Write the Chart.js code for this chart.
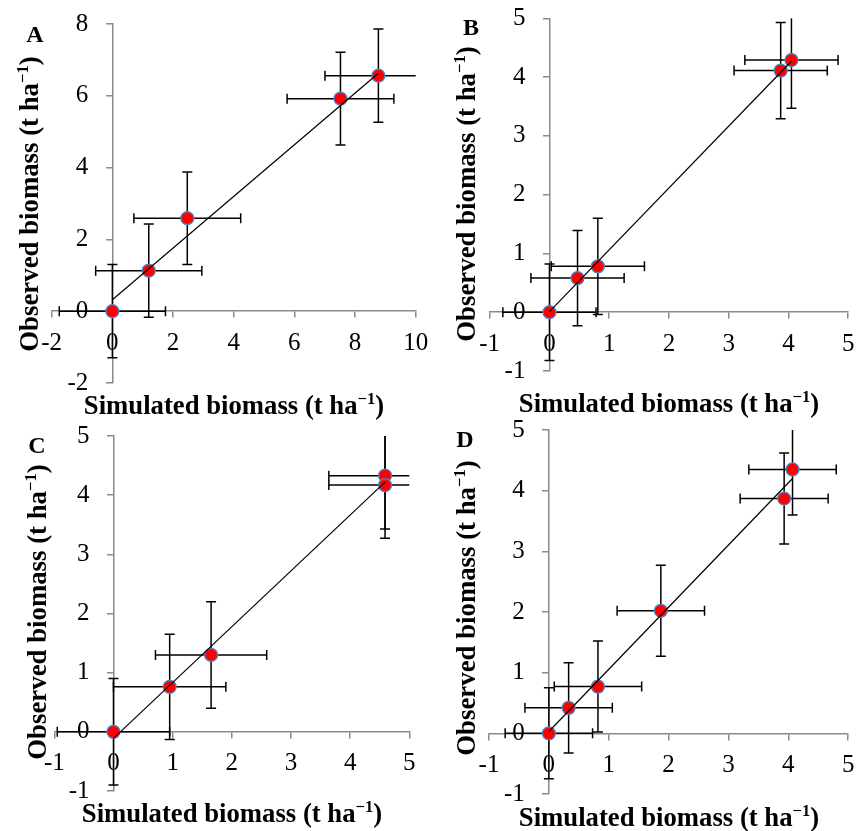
<!DOCTYPE html>
<html>
<head>
<meta charset="utf-8">
<script src="https://cdn.jsdelivr.net/npm/chart.js@4.4.1/dist/chart.umd.min.js"></script>
<style>
  html, body { margin:0; padding:0; background:#fff; }
  body { width:856px; height:831px; position:relative; overflow:hidden; }
  canvas { position:absolute; }
  .t { position:absolute; white-space:nowrap; font-weight:bold; color:#000; font-size:26px; line-height:1; }
  .t sup { font-size:0.62em; vertical-align:0.6em; line-height:0; }
  .xt { transform:translate(-50%,-50%); }
  .yt { transform:translate(-50%,-50%) rotate(-90deg); }
  .lab { position:absolute; font-weight:bold; font-size:24px; line-height:1; transform:translate(-50%,-50%); }
</style>
</head>
<body>
<canvas id="cA" width="430" height="415" style="left:0;top:0;"></canvas>
<canvas id="cB" width="428" height="415" style="left:428px;top:0;"></canvas>
<canvas id="cC" width="430" height="416" style="left:0;top:415px;"></canvas>
<canvas id="cD" width="428" height="416" style="left:428px;top:415px;"></canvas>

<div class="lab" style="left:35px;top:34px;">A</div>
<div class="lab" style="left:471px;top:27px;">B</div>
<div class="lab" style="left:37px;top:445px;">C</div>
<div class="lab" style="left:465px;top:439px;">D</div>

<div class="t xt" style="left:234px;top:405px;">Simulated biomass (t ha<sup>−1</sup>)</div>
<div class="t xt" style="left:669px;top:403px;">Simulated biomass (t ha<sup>−1</sup>)</div>
<div class="t xt" style="left:232px;top:813px;">Simulated biomass (t ha<sup>−1</sup>)</div>
<div class="t xt" style="left:669px;top:817px;">Simulated biomass (t ha<sup>−1</sup>)</div>

<div class="t yt" style="left:29px;top:204px;">Observed biomass (t ha<sup>−1</sup>)</div>
<div class="t yt" style="left:466px;top:194px;">Observed biomass (t ha<sup>−1</sup>)</div>
<div class="t yt" style="left:37px;top:612px;">Observed biomass (t ha<sup>−1</sup>)</div>
<div class="t yt" style="left:466px;top:608px;">Observed biomass (t ha<sup>−1</sup>)</div>

<script>
// ---------- Panel A ----------
const simA = [0, 1.2, 2.47, 7.52, 8.77];
const obsA = [0, 1.13, 2.59, 5.92, 6.56];
const errSimA = [1.75, 1.75, 1.76, 1.76, 1.76];
const errObsA = [1.3, 1.3, 1.29, 1.29, 1.3];
const trendXA = [0, 8.77];
const trendYA = [0.32, 6.63];

// ---------- Panel B ----------
const simB = [0, 0.47, 0.81, 3.87, 4.05];
const obsB = [0, 0.58, 0.78, 4.11, 4.29];
const errSimB = [0.78, 0.78, 0.78, 0.78, 0.78];
const errObsB = [0.82, 0.81, 0.82, 0.82, 0.82];
const trendXB = [0, 4.05];
const trendYB = [0.01, 4.27];

// ---------- Panel C ----------
const simC = [0, 0.95, 1.65, 4.59, 4.59];
const obsC = [0, 0.76, 1.30, 4.33, 4.17];
const errSimC = [0.95, 0.95, 0.94, 0.95, 0.95];
const errObsC = [0.9, 0.89, 0.9, 0.9, 0.9];
const trendXC = [0, 4.59];
const trendYC = [-0.11, 4.22];

// ---------- Panel D ----------
const simD = [0, 0.33, 0.82, 1.87, 3.93, 4.07];
const obsD = [0, 0.42, 0.77, 2.02, 3.87, 4.35];
const errSimD = [0.73, 0.73, 0.73, 0.73, 0.735, 0.73];
const errObsD = [0.75, 0.745, 0.75, 0.75, 0.75, 0.75];
const trendXD = [0, 4.07];
const trendYD = [0.03, 4.2];

// axis ranges / tick steps
const xRangeA = [-2, 10], yRangeA = [-2, 8], stepA = 2;
const xRangeB = [-1, 5], yRangeB = [-1, 5], stepB = 1;
const xRangeC = [-1, 5], yRangeC = [-1, 5], stepC = 1;
const xRangeD = [-1, 5], yRangeD = [-1, 5], stepD = 1;

// ---- pick an installed serif font (Times-like first) ----
function pickFont(cands) {
  const c = document.createElement('canvas').getContext('2d');
  const s = 'Observed biomass Simulated 0123456789';
  for (const f of cands) {
    c.font = '40px "' + f + '", monospace'; const a = c.measureText(s).width;
    c.font = '40px "' + f + '", sans-serif'; const b = c.measureText(s).width;
    if (Math.abs(a - b) < 0.01) return f;
  }
  return 'serif';
}
const FAMILY = pickFont(['Liberation Serif', 'Times New Roman', 'Tinos', 'Times', 'Nimbus Roman', 'Nimbus Roman No9 L', 'DejaVu Serif', 'Noto Serif']);
const FONT = '"' + FAMILY + '", serif';

// size tick labels so that "10" is ~25px wide (Times metrics)
const mctx = document.createElement('canvas').getContext('2d');
mctx.font = '25px ' + FONT;
const TICK_SIZE = Math.min(25, 25 * 25 / mctx.measureText('10').width);

document.querySelectorAll('.t, .lab').forEach(el => { el.style.fontFamily = FONT; });
// fit titles to the reference widths
document.querySelectorAll('.xt').forEach(el => {
  const w = el.offsetWidth; el.style.fontSize = (26 * 300 / w) + 'px';
});
document.querySelectorAll('.yt').forEach(el => {
  const w = el.offsetWidth; el.style.fontSize = (26 * 296 / w) + 'px';
});

const AXIS_COLOR = '#8a8a8a';

const drawPlugin = {
  id: 'errbars',
  beforeDatasetsDraw(chart, args, opts) {
    const {ctx, chartArea, scales} = chart;
    // y tick labels, right-aligned to the left of the crossing axis
    const x0 = scales.x.getPixelForValue(0);
    ctx.save();
    ctx.font = TICK_SIZE + 'px ' + FONT;
    ctx.fillStyle = '#000';
    ctx.textAlign = 'right';
    ctx.textBaseline = 'middle';
    scales.y.ticks.forEach(t => {
      const lbl = (t.label !== undefined && t.label !== null && t.label !== '') ? t.label : String(t.value);
      ctx.fillText(lbl, x0 - 24, scales.y.getPixelForValue(t.value));
    });
    ctx.restore();

    // error bars
    const xs = opts.x, ys = opts.y, ex = opts.ex, ey = opts.ey;
    const cap = 5;
    ctx.save();
    ctx.beginPath();
    ctx.rect(chartArea.left, chartArea.top, chartArea.right - chartArea.left, chartArea.bottom - chartArea.top);
    ctx.clip();
    ctx.strokeStyle = '#000';
    ctx.lineWidth = 1.5;
    for (let i = 0; i < xs.length; i++) {
      const px = scales.x.getPixelForValue(xs[i]);
      const py = scales.y.getPixelForValue(ys[i]);
      const x1 = scales.x.getPixelForValue(xs[i] - ex[i]);
      const x2 = scales.x.getPixelForValue(xs[i] + ex[i]);
      const y1 = scales.y.getPixelForValue(ys[i] + ey[i]);
      const y2 = scales.y.getPixelForValue(ys[i] - ey[i]);
      ctx.beginPath();
      ctx.moveTo(x1, py); ctx.lineTo(x2, py);
      ctx.moveTo(x1, py - cap); ctx.lineTo(x1, py + cap);
      ctx.moveTo(x2, py - cap); ctx.lineTo(x2, py + cap);
      ctx.moveTo(px, y1); ctx.lineTo(px, y2);
      ctx.moveTo(px - cap, y1); ctx.lineTo(px + cap, y1);
      ctx.moveTo(px - cap, y2); ctx.lineTo(px + cap, y2);
      ctx.stroke();
    }
    ctx.restore();
  }
};

function axisCfg(range, step, pos, showLabels) {
  return {
    type: 'linear', min: range[0], max: range[1], position: pos,
    ticks: { display: showLabels, stepSize: step, color: '#000',
             font: { family: FONT, size: TICK_SIZE, lineHeight: 2.06 }, padding: 0 },
    grid: { drawOnChartArea: false, drawTicks: true, tickLength: 6, color: AXIS_COLOR, lineWidth: 1.5 },
    border: { display: true, color: AXIS_COLOR, width: 1.5 }
  };
}

function makePanel(id, sim, obs, es, eo, tx, ty, xr, yr, step, padding) {
  new Chart(document.getElementById(id), {
    type: 'scatter',
    data: {
      datasets: [
        {
          type: 'line',
          data: tx.map((v, i) => ({x: v, y: ty[i]})),
          borderColor: '#000', borderWidth: 1.2, pointRadius: 0, fill: false, order: 0
        },
        {
          data: sim.map((v, i) => ({x: v, y: obs[i]})),
          backgroundColor: '#ff0000', borderColor: '#4a86c8', borderWidth: 1.3,
          pointRadius: 6.5, order: 1
        }
      ]
    },
    options: {
      responsive: false, animation: false, devicePixelRatio: 1,
      layout: { padding: padding },
      plugins: {
        legend: { display: false }, tooltip: { enabled: false },
        errbars: { x: sim, y: obs, ex: es, ey: eo }
      },
      scales: {
        x: axisCfg(xr, step, {y: 0}, true),
        y: axisCfg(yr, step, {x: 0}, false)
      }
    },
    plugins: [drawPlugin]
  });
}

makePanel('cA', simA, obsA, errSimA, errObsA, trendXA, trendYA, xRangeA, yRangeA, stepA,
  {left: 51.7, right: 14.3, top: 24, bottom: 32});
makePanel('cB', simB, obsB, errSimB, errObsB, trendXB, trendYB, xRangeB, yRangeB, stepB,
  {left: 61.7, right: 7, top: 18.3, bottom: 44});
makePanel('cC', simC, obsC, errSimC, errObsC, trendXC, trendYC, xRangeC, yRangeC, stepC,
  {left: 54.3, right: 20.7, top: 21, bottom: 40});
makePanel('cD', simD, obsD, errSimD, errObsD, trendXD, trendYD, xRangeD, yRangeD, stepD,
  {left: 61, right: 7, top: 15, bottom: 37});
</script>
</body>
</html>
